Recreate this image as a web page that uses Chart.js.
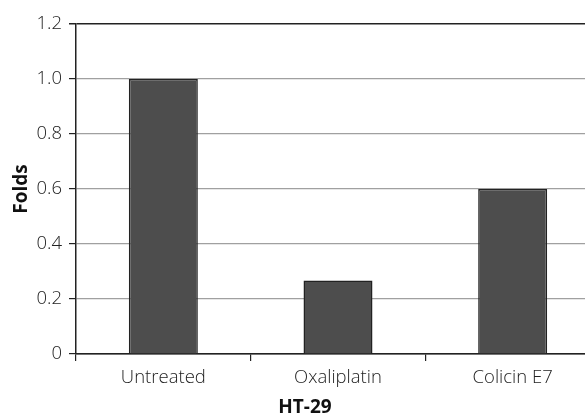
<!DOCTYPE html>
<html>
<head>
<meta charset="utf-8">
<script src="https://cdn.jsdelivr.net/npm/chart.js@4/dist/chart.umd.min.js"></script>
<style>
  html, body { margin: 0; padding: 0; background: #fff; overflow: hidden; }
  #wrap { width: 600px; height: 417px; }
</style>
</head>
<body>
<div id="wrap"><canvas id="chart" width="600" height="417"></canvas></div>
<script>
// values
const categories = ['Untreated', 'Oxaliplatin', 'Colicin E7'];
const folds = [1.0, 0.267, 0.6];
const yTicks = [0, 0.2, 0.4, 0.6, 0.8, 1.0, 1.2];

const family = '"Open Sans", "Noto Sans", sans-serif';
const tickFont = { family: family, size: 18.5, weight: 300 };
const titleFont = { family: family, size: 19, weight: 'bold', lineHeight: 1 };

const ctx = document.getElementById('chart').getContext('2d');
const chart = new Chart(ctx, {
  type: 'bar',
  data: {
    labels: categories,
    datasets: [{
      data: folds,
      backgroundColor: '#4d4d4d',
      borderColor: '#222',
      borderWidth: 1.5,
      categoryPercentage: 1,
      barPercentage: 0.395
    }]
  },
  options: {
    responsive: false,
    animation: false,
    layout: { padding: { top: 24, right: 0, bottom: 0, left: 10 } },
    plugins: {
      legend: { display: false },
      tooltip: { enabled: false },
      // x axis caption sits slightly left of the plot centre in the original
      title: {
        display: true,
        position: 'bottom',
        text: 'HT-29',
        color: '#111',
        font: titleFont,
        padding: { top: 0, bottom: 0 }
      }
    },
    scales: {
      x: {
        offset: true,
        grid: { display: true, drawOnChartArea: false, offset: true, tickLength: 7, color: '#222', lineWidth: 1.2 },
        border: { display: true, color: '#222', width: 1.5 },
        ticks: { color: '#222', font: tickFont, padding: 6 },
        afterFit: s => { s.height = 44; }
      },
      y: {
        min: 0,
        max: 1.2,
        afterBuildTicks: s => { s.ticks = yTicks.map(v => ({ value: v })); },
        grid: {
          tickLength: 7,
          color: c => (c.tick && (c.tick.value === 1.2 || c.tick.value === 0)) ? '#222' : '#a0a0a0',
          tickColor: '#222',
          lineWidth: c => (c.tick && c.tick.value === 1.2) ? 1.5 : 1.2
        },
        border: { display: true, color: '#222', width: 1.5 },
        ticks: {
          color: '#222',
          font: tickFont,
          padding: 7,
          callback: v => v === 0 ? '0' : Number(v).toFixed(1)
        },
        title: {
          display: true,
          text: 'Folds',
          color: '#111',
          font: { family: family, size: 19, weight: 'bold' },
          padding: { top: 0, bottom: 0 }
        },
        afterFit: s => { s.width = 66; }
      }
    }
  }
});
</script>
</body>
</html>
